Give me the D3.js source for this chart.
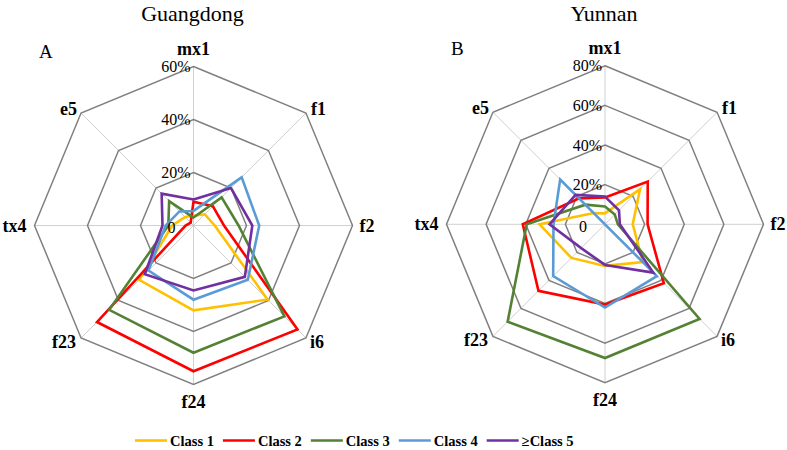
<!DOCTYPE html>
<html>
<head>
<meta charset="utf-8">
<script src="https://cdn.jsdelivr.net/npm/d3@7"></script>
<style>
  html, body { margin: 0; padding: 0; background: #fff; }
  svg { display: block; }
  text { font-family: "Liberation Serif", "Times New Roman", serif; fill: #000; }
</style>
</head>
<body>
<svg id="chart" width="787" height="450"></svg>
<script>
// ---- data ----
const axes = ["mx1", "f1", "f2", "i6", "f24", "f23", "tx4", "e5"];
const classes = ["Class 1", "Class 2", "Class 3", "Class 4", "\u2265Class 5"];
const colors = ["#FFC000", "#FF0000", "#548235", "#5B9BD5", "#7030A0"];

const gdTicks = [0, 20, 40, 60];
const gdClass1 = [3.7, 6, 8, 39.5, 32, 29, 8, 4.5];
const gdClass2 = [9, 10.3, 11.5, 55.5, 55, 51.5, 3, 1.5];
const gdClass3 = [3, 15, 17, 48.5, 48, 45, 9.5, 13];
const gdClass4 = [5.5, 25.7, 24.8, 29, 28, 24, 10.5, 7.5];
const gdClass5 = [9.8, 20, 22.2, 27.4, 24.5, 26, 11.7, 17];

const ynTicks = [0, 20, 40, 60, 80];
const ynClass1 = [5.5, 25, 14, 27, 21, 24, 33, 8];
const ynClass2 = [13.5, 30.5, 21.5, 42, 40.5, 47.5, 41.5, 18.5];
const ynClass3 = [9, 7, 6.5, 67.5, 67.5, 69.5, 39.5, 14];
const ynClass4 = [0, 0, 0, 37, 42, 37, 26, 32];
const ynClass5 = [14, 10, 7.5, 34.5, 20.5, 17, 28, 21];

// ---- drawing ----
const svg = d3.select("#chart");

function radar(opts) {
  const { cx, cy, R, ticks, series, title, letter } = opts;
  const g = svg.append("g").attr("transform", `translate(${cx},${cy})`);
  const r = d3.scaleLinear().domain([0, d3.max(ticks)]).range([0, R]);
  const ang = d3.scalePoint().domain(axes).range([0, 2 * Math.PI * (axes.length - 1) / axes.length]);
  const px = (a, v) => r(v) * Math.sin(ang(a));
  const py = (a, v) => -r(v) * Math.cos(ang(a));

  // spokes
  g.selectAll("line.spoke").data(axes).join("line")
    .attr("class", "spoke")
    .attr("x1", 0).attr("y1", 0)
    .attr("x2", d => px(d, d3.max(ticks))).attr("y2", d => py(d, d3.max(ticks)))
    .attr("stroke", "#d0d0d0").attr("stroke-width", 1);

  // rings
  const ringLine = d3.lineRadial().angle(d => ang(d.a)).radius(d => r(d.v)).curve(d3.curveLinearClosed);
  g.selectAll("path.ring").data(ticks.filter(t => t > 0)).join("path")
    .attr("class", "ring")
    .attr("d", t => ringLine(axes.map(a => ({ a, v: t }))))
    .attr("fill", "none").attr("stroke", "#808080").attr("stroke-width", 1.5);

  // series
  const sLine = d3.lineRadial().angle((d, i) => ang(axes[i])).radius(d => r(d)).curve(d3.curveLinearClosed);
  series.forEach((vals, i) => {
    g.append("path").attr("d", sLine(vals))
      .attr("fill", "none").attr("stroke", colors[i]).attr("stroke-width", 2.6)
      .attr("stroke-linejoin", "miter");
  });

  // tick labels
  g.selectAll("text.tick").data(ticks).join("text")
    .attr("class", "tick")
    .attr("x", t => t === 0 ? -18 : -3)
    .attr("y", t => -r(t) + (t === 0 ? 7.5 : 5.5))
    .attr("text-anchor", "end")
    .attr("font-size", 16)
    .text(t => t === 0 ? "0" : t + "%");

  // axis labels
  const M = d3.max(ticks);
  const lab = {
    mx1: { dx: 0, dy: -12, anchor: "middle" },
    f1: { dx: 5, dy: 2, anchor: "start" },
    f2: { dx: 7, dy: 6, anchor: "start" },
    i6: { dx: 4, dy: 10, anchor: "start" },
    f24: { dx: 0, dy: 23, anchor: "middle" },
    f23: { dx: -5, dy: 10, anchor: "end" },
    tx4: { dx: -8, dy: 6, anchor: "end" },
    e5: { dx: -4, dy: 2, anchor: "end" }
  };
  g.selectAll("text.axis").data(axes).join("text")
    .attr("class", "axis")
    .attr("x", a => px(a, M) + lab[a].dx)
    .attr("y", a => py(a, M) + lab[a].dy)
    .attr("text-anchor", a => lab[a].anchor)
    .attr("font-size", 18).attr("font-weight", "bold")
    .text(a => a);

  // title & letter
  svg.append("text").attr("x", cx + opts.titleDx).attr("y", 21)
    .attr("text-anchor", "middle").attr("font-size", 22).text(title);
  svg.append("text").attr("x", opts.letterX).attr("y", opts.letterY)
    .attr("font-size", 19).text(letter);
}

radar({
  cx: 193.5, cy: 225.5, R: 159, ticks: gdTicks,
  series: [gdClass1, gdClass2, gdClass3, gdClass4, gdClass5],
  title: "Guangdong", titleDx: -1, letter: "A", letterX: 39, letterY: 58
});
radar({
  cx: 605, cy: 224.3, R: 158.5, ticks: ynTicks,
  series: [ynClass1, ynClass2, ynClass3, ynClass4, ynClass5],
  title: "Yunnan", titleDx: -1, letter: "B", letterX: 451, letterY: 55
});

// legend
const leg = svg.append("g");
let x = 135;
classes.forEach((c, i) => {
  leg.append("line").attr("x1", x).attr("x2", x + 32).attr("y1", 440.5).attr("y2", 440.5)
    .attr("stroke", colors[i]).attr("stroke-width", 2.6);
  const t = leg.append("text").attr("x", x + 35).attr("y", 446)
    .attr("font-size", 14.5).attr("font-weight", "bold").text(c);
  x += 35 + t.node().getComputedTextLength() + 9;
});
</script>
</body>
</html>
